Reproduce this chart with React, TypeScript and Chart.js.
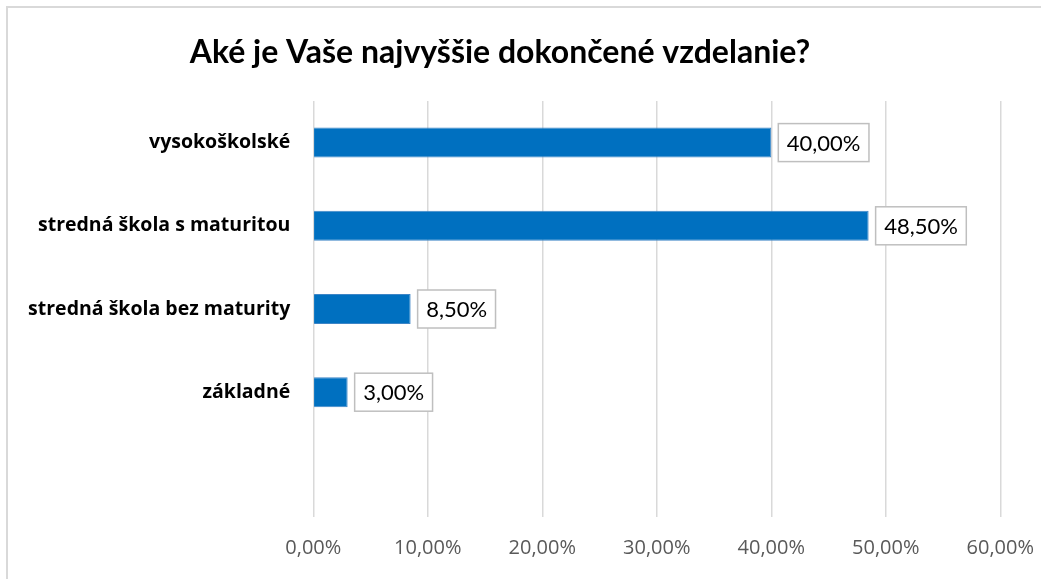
import React, { useEffect, useRef } from 'react';
import { Chart, registerables } from 'chart.js';

Chart.register(...registerables);

const titleText = 'Aké je Vaše najvyššie dokončené vzdelanie?';
const categories = ['vysokoškolské', 'stredná škola s maturitou', 'stredná škola bez maturity', 'základné', ''];
const percentValues: (number | null)[] = [40, 48.5, 8.5, 3, null];
const xTickLabels = ['0,00%', '10,00%', '20,00%', '30,00%', '40,00%', '50,00%', '60,00%'];

const fmt = (v: number) => v.toFixed(2).replace('.', ',') + '%';

const W = 1041;
const H = 579;

export default function App() {
  const ref = useRef<HTMLCanvasElement | null>(null);

  useEffect(() => {
    if (!ref.current) return;

    const framePlugin = {
      id: 'frameAndTitle',
      beforeDraw(chart: any) {
        const ctx = chart.ctx;
        ctx.save();
        ctx.fillStyle = '#ffffff';
        ctx.fillRect(0, 0, W, H);
        ctx.strokeStyle = '#d9d9d9';
        ctx.lineWidth = 2;
        ctx.strokeRect(7, 7, W + 20, H + 20);
        ctx.restore();
      },
      afterDraw(chart: any) {
        const ctx = chart.ctx;
        ctx.save();
        ctx.font = 'bold 32px Lato';
        ctx.fillStyle = '#000000';
        ctx.textAlign = 'center';
        ctx.textBaseline = 'alphabetic';
        ctx.fillText(titleText, 500, 63);
        ctx.restore();
      },
    };

    const labelPlugin = {
      id: 'valueBoxes',
      afterDatasetsDraw(chart: any) {
        const ctx = chart.ctx;
        const meta = chart.getDatasetMeta(0);
        ctx.save();
        meta.data.forEach((bar: any, i: number) => {
          const v = percentValues[i];
          if (v == null) return;
          const { x, y } = bar.getProps(['x', 'y'], true);
          const text = fmt(v);
          ctx.font = '22px Lato';
          const tw = ctx.measureText(text).width;
          const padX = 8.5;
          const bx = x + 7;
          const bw = tw + padX * 2;
          const bh = 38;
          const by = y - bh / 2;
          ctx.fillStyle = '#ffffff';
          ctx.fillRect(bx, by, bw, bh);
          ctx.strokeStyle = '#bfbfbf';
          ctx.lineWidth = 1.5;
          ctx.strokeRect(bx, by, bw, bh);
          ctx.fillStyle = '#000000';
          ctx.textAlign = 'left';
          ctx.textBaseline = 'middle';
          ctx.fillText(text, bx + padX, y + 1);
        });
        ctx.restore();
      },
    };

    const chart = new Chart(ref.current, {
      type: 'bar',
      data: {
        labels: categories,
        datasets: [
          {
            data: percentValues as any,
            backgroundColor: '#0070c0',
            borderColor: '#3d85c6',
            borderWidth: 1,
            categoryPercentage: 1,
            barPercentage: 0.36,
          },
        ],
      },
      options: {
        indexAxis: 'y',
        responsive: false,
        animation: false,
        layout: { padding: { top: 101, right: 40.7, bottom: 0, left: 0 } },
        plugins: {
          legend: { display: false },
          title: { display: false },
          tooltip: { enabled: false },
        },
        scales: {
          x: {
            min: 0,
            max: 60,
            ticks: {
              stepSize: 10,
              padding: 19,
              color: '#595959',
              font: { family: 'Open Sans', size: 20 },
              callback: (_v: any, idx: number) => xTickLabels[idx],
            },
            grid: { color: '#d9d9d9', lineWidth: 1.5, drawTicks: false },
            border: { display: false },
            afterFit: (s: any) => {
              s.height = 62;
              s.paddingLeft = 0;
              s.paddingRight = 0;
            },
          },
          y: {
            ticks: {
              padding: 23,
              color: '#000000',
              font: { family: 'Open Sans', size: 19.5, weight: 'bold' },
            },
            grid: { display: false, drawTicks: false },
            border: { display: false },
            afterFit: (s: any) => {
              s.width = 313.3;
              s.paddingTop = 0;
              s.paddingBottom = 0;
            },
          },
        },
      },
      plugins: [framePlugin, labelPlugin],
    });

    return () => chart.destroy();
  }, []);

  return (
    <div style={{ position: 'fixed', left: 0, top: 0, width: W, height: H, background: '#fff' }}>
      <canvas ref={ref} width={W} height={H} style={{ display: 'block', width: W, height: H }} />
    </div>
  );
}
